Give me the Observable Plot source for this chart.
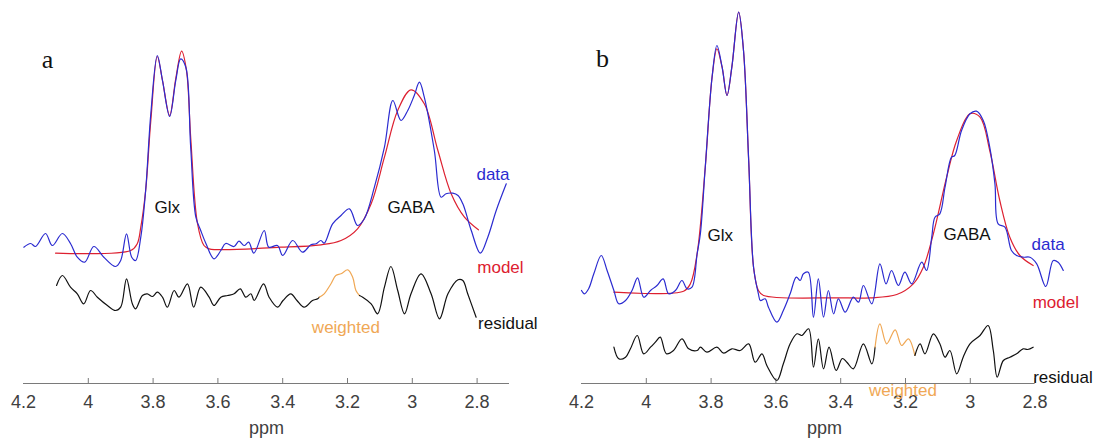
<!DOCTYPE html>
<html><head><meta charset="utf-8">
<script src="https://cdn.jsdelivr.net/npm/d3@7"></script>
<script src="https://cdn.jsdelivr.net/npm/@observablehq/plot@0.6"></script>
<style>
body{margin:0;background:#fff;}
#wrap{display:flex;width:1100px;height:439px;overflow:hidden;}
#wrap svg{overflow:visible;}
</style></head><body><div id="wrap"></div>
<script>
// ---- ppm tick labels ----
const ppmTicks = [4.2, 4, 3.8, 3.6, 3.4, 3.2, 3, 2.8];

// ---- Panel a : [ppm, signal] ----
const dataA = [[4.199,136.3],[4.178,140],[4.163,137],[4.132,150],[4.111,138],[4.080,150],[4.055,140],[4.034,126.3],[4.011,121.3],[3.983,137],[3.952,126.3],[3.916,117],[3.900,123],[3.882,149.7],[3.866,126.3],[3.854,123],[3.838,146.3],[3.823,193],[3.807,270],[3.787,328],[3.771,303],[3.749,267],[3.730,303],[3.715,324.7],[3.699,316.3],[3.684,236.3],[3.668,166.3],[3.653,153],[3.637,140],[3.612,124.7],[3.591,133],[3.576,140],[3.550,137],[3.535,142.3],[3.519,138],[3.505,141.3],[3.489,130.3],[3.457,153],[3.443,136.3],[3.416,138],[3.400,128],[3.369,143],[3.339,131.3],[3.313,138.7],[3.297,139.7],[3.282,143],[3.272,140.3],[3.246,159.7],[3.220,168],[3.194,174.7],[3.169,158],[3.148,164.7],[3.117,196.3],[3.086,236.3],[3.060,283],[3.035,263],[3.014,273],[2.994,288],[2.978,301.3],[2.963,286.3],[2.932,233],[2.911,186.3],[2.896,189.7],[2.875,190.3],[2.859,188],[2.844,179.7],[2.818,153],[2.790,130.3],[2.767,146.3],[2.741,173],[2.710,199.7]];
const modelA = [[4.101,130.3],[3.869,133],[3.849,139.7],[3.838,156.3],[3.823,193],[3.807,263],[3.787,327],[3.771,303],[3.749,268],[3.730,305],[3.712,332.3],[3.697,313],[3.684,246.3],[3.663,160],[3.643,138],[3.627,134.7],[3.406,136.3],[3.282,138.7],[3.220,143],[3.169,154.7],[3.127,179.7],[3.086,226.3],[3.045,273],[3.004,293.7],[2.963,279.7],[2.921,233],[2.880,189.7],[2.839,166.3],[2.796,153.7]];
const residualA1 = [[4.098,98],[4.080,108],[4.055,96.3],[4.034,89.7],[4.014,79.7],[3.993,93],[3.972,86.3],[3.941,78],[3.916,73],[3.900,76.3],[3.882,104.7],[3.864,79.7],[3.854,74.7],[3.833,88],[3.818,89.7],[3.802,87],[3.787,91.3],[3.771,86.3],[3.756,76.3],[3.735,93],[3.720,86.3],[3.694,99.7],[3.675,76.3],[3.653,96.3],[3.627,86.3],[3.612,78],[3.591,86.3],[3.570,88],[3.550,89.7],[3.531,94.7],[3.514,86.3],[3.498,89.7],[3.488,83],[3.459,99.7],[3.442,86.3],[3.416,76.3],[3.399,83],[3.375,89.7],[3.356,83],[3.334,76.3],[3.308,83],[3.292,84.7],[3.287,86.3]];
const weightedA = [[3.287,86.3],[3.272,89.7],[3.251,99.7],[3.236,108],[3.220,109.7],[3.199,113.7],[3.184,106.3],[3.174,93],[3.163,88]];
const residualA2 = [[3.163,88],[3.153,86.3],[3.127,79.7],[3.107,69.7],[3.086,96.3],[3.066,117],[3.045,93],[3.024,69.7],[3.004,89.7],[2.973,109.7],[2.942,89.7],[2.916,64.7],[2.890,89.7],[2.859,103.7],[2.844,103],[2.829,89.7],[2.803,66.3]];

// ---- Panel b : [ppm, signal] ----
const dataB = [[4.200,93],[4.191,89.7],[4.178,94.7],[4.162,109.7],[4.139,128],[4.121,113],[4.100,93],[4.085,79.7],[4.064,83],[4.044,93],[4.027,105.7],[4.008,86.3],[3.987,93],[3.967,98],[3.948,104.7],[3.931,89.7],[3.910,93],[3.890,103],[3.874,94.7],[3.859,96.3],[3.843,130],[3.833,150],[3.818,216.3],[3.797,306.3],[3.782,338],[3.766,316.3],[3.751,288],[3.736,316.3],[3.715,371.3],[3.700,333],[3.684,223],[3.669,116.3],[3.654,89.7],[3.648,83],[3.633,84.7],[3.623,76.3],[3.597,61.3],[3.577,73],[3.556,89.7],[3.537,106.3],[3.525,103],[3.515,109.7],[3.500,111.3],[3.484,66.3],[3.469,104.7],[3.453,66.3],[3.438,93],[3.422,69.7],[3.407,84.7],[3.386,71.3],[3.361,86.3],[3.345,81.3],[3.330,98],[3.304,79.7],[3.279,119.7],[3.260,99.7],[3.243,113],[3.222,98],[3.202,111.3],[3.181,99.7],[3.150,121.3],[3.135,113],[3.119,146.3],[3.109,166.3],[3.094,169.7],[3.078,196.3],[3.058,226.3],[3.048,228],[3.027,253],[3.001,269.7],[2.981,272.3],[2.960,263],[2.940,236.3],[2.924,199.7],[2.914,159.7],[2.893,156.3],[2.873,133],[2.857,128],[2.837,126.3],[2.816,126.3],[2.795,119.7],[2.767,97],[2.744,123],[2.729,121.3],[2.713,113]];
const modelB = [[4.100,91.3],[3.885,92.3],[3.864,99.7],[3.843,130],[3.818,216.3],[3.797,306.3],[3.782,334.7],[3.766,316.3],[3.751,288],[3.736,316.3],[3.715,371.3],[3.700,333],[3.684,223],[3.669,116.3],[3.654,93],[3.638,88],[3.402,85.7],[3.309,85.7],[3.227,89],[3.176,99.7],[3.145,116.3],[3.114,149.7],[3.073,206.3],[3.042,243],[3.001,269.7],[2.970,266.3],[2.940,233],[2.909,183],[2.878,146.3],[2.847,128],[2.806,118]];
const residualB1 = [[4.100,36.3],[4.085,24.7],[4.064,26.3],[4.049,34.7],[4.028,48],[4.008,29.7],[3.987,36.3],[3.972,41.3],[3.957,46.3],[3.938,29.7],[3.916,33],[3.890,44.7],[3.869,34.7],[3.843,33],[3.833,36.3],[3.813,31.3],[3.782,36.3],[3.761,30.3],[3.736,34.7],[3.710,33],[3.684,39.7],[3.664,21.3],[3.643,29.7],[3.628,18],[3.597,3],[3.577,19.7],[3.556,39.7],[3.535,49.7],[3.520,48],[3.499,54.7],[3.484,16.3],[3.469,44.7],[3.453,14.7],[3.436,36.3],[3.414,13],[3.395,25],[3.381,21.3],[3.361,14.7],[3.330,39.7],[3.304,19.7],[3.294,36.3]];
const weightedB = [[3.294,36.3],[3.279,59.7],[3.258,39.7],[3.232,53.7],[3.212,38],[3.191,44.7],[3.171,28]];
const residualB2 = [[3.171,28],[3.155,39.7],[3.140,29.7],[3.114,49.7],[3.094,39.7],[3.078,26.3],[3.063,33],[3.042,9.7],[3.022,26.3],[3.001,39.7],[2.970,48],[2.945,58],[2.929,33],[2.917,6.3],[2.898,23],[2.878,26.3],[2.857,29.7],[2.837,34.7],[2.823,34],[2.806,36.3]];

// ---- annotations ----
const labelsA = [
  {t:"a", x:4.126, y:324, kind:"panel"},
  {t:"Glx", x:3.756, y:176, kind:"black"},
  {t:"GABA", x:3.004, y:176, kind:"black"},
  {t:"data", x:2.751, y:209, kind:"data"},
  {t:"model", x:2.728, y:116, kind:"model"},
  {t:"weighted", x:3.205, y:56, kind:"weighted"},
  {t:"residual", x:2.705, y:60, kind:"black"}
];
const labelsB = [
  {t:"b", x:4.135, y:325, kind:"panel"},
  {t:"Glx", x:3.772, y:148, kind:"black"},
  {t:"GABA", x:3.010, y:149, kind:"black"},
  {t:"data", x:2.760, y:139, kind:"data"},
  {t:"model", x:2.736, y:81, kind:"model"},
  {t:"weighted", x:3.208, y:-7, kind:"weighted"},
  {t:"residual", x:2.714, y:6, kind:"black"}
];

const C = {data:"#2b2bd0", model:"#dd2030", weighted:"#f0a855", black:"#111111", panel:"#111111"};

function panel(d, m, r1, w, r2, labels, ml, mr, axisEnd) {
  const lineOpts = {x: p => p[0], y: p => p[1], curve: "catmull-rom", strokeWidth: 1.2};
  const sans = labels.filter(l => l.kind !== "panel");
  const serif = labels.filter(l => l.kind === "panel");
  return Plot.plot({
    width: 550, height: 439,
    marginLeft: ml, marginRight: mr, marginTop: 0, marginBottom: 56,
    x: {domain: [4.2, 2.7], axis: null},
    y: {domain: [0, 383], axis: null},
    style: {fontFamily: "'Liberation Sans', Arial, sans-serif", background: "white", overflow: "visible"},
    marks: [
      Plot.ruleY([0], {x1: 4.2, x2: axisEnd, stroke: "#7a7a7a", strokeWidth: 1.2}),
      Plot.ruleX(ppmTicks.filter(t => t < 4.19), {x: t => t, y1: 0, y2: 5, stroke: "#7a7a7a"}),
      Plot.axisX({ticks: ppmTicks, tickSize: 0, tickPadding: 12, fontSize: 18, color: "#404040", tickFormat: v => String(v), label: null}),
      Plot.text(["ppm"], {x: 3.45, y: -45, text: v => v, fontSize: 18, fill: "#404040"}),
      Plot.line(m, {...lineOpts, stroke: C.model}),
      Plot.line(d, {...lineOpts, stroke: C.data}),
      Plot.line(r1, {...lineOpts, stroke: C.black}),
      Plot.line(w, {...lineOpts, stroke: C.weighted}),
      Plot.line(r2, {...lineOpts, stroke: C.black}),
      Plot.text(sans, {x: "x", y: "y", text: "t", fill: l => C[l.kind], fontSize: 17}),
      Plot.text(serif, {x: "x", y: "y", text: "t", fill: C.panel, fontSize: 26, fontFamily: "'Liberation Serif', 'DejaVu Serif', serif"})
    ]
  });
}

const wrap = document.getElementById("wrap");
wrap.appendChild(panel(dataA, modelA, residualA1, weightedA, residualA2, labelsA, 23, 41, 2.7));
wrap.appendChild(panel(dataB, modelB, residualB1, weightedB, residualB2, labelsB, 31, 33, 2.8));
</script></body></html>
